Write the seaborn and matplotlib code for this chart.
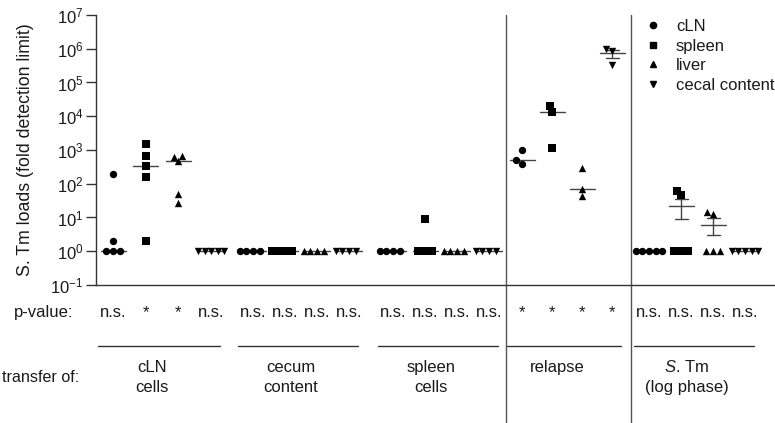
import numpy as np
import pandas as pd
import matplotlib
matplotlib.use("Agg")
import matplotlib.pyplot as plt
import matplotlib.transforms as mtransforms
from matplotlib.lines import Line2D
from matplotlib.ticker import LogFormatterMathtext, NullLocator
import seaborn as sns

# ---- data (fold detection limit) ----
tissues = ["cLN", "spleen", "liver", "cecal content"]
markers = ["o", "s", "^", "v"]
groups = ["cLN\ncells", "cecum\ncontent", "spleen\ncells", "relapse",
          "$\\mathit{S}$. Tm\n(log phase)"]

# one list per transfer group
cln_loads = [[1, 1, 1, 2, 190], [1, 1, 1, 1], [1, 1, 1, 1],
             [390, 490, 970], [1, 1, 1, 1, 1]]
spleen_loads = [[2, 158, 330, 660, 1480], [1, 1, 1, 1], [1, 1, 1, 9],
                [1170, 13000, 19600], [1, 1, 1, 45, 63]]
liver_loads = [[26, 50, 460, 620, 660], [1, 1, 1, 1], [1, 1, 1, 1],
               [42, 69, 290], [1, 1, 1, 13, 15]]
cecal_loads = [[1, 1, 1, 1, 1], [1, 1, 1, 1], [1, 1, 1, 1],
               [320000, 860000, 1000000], [1, 1, 1, 1, 1]]

p_values = [["n.s.", "*", "*", "n.s."],
            ["n.s.", "n.s.", "n.s.", "n.s."],
            ["n.s.", "n.s.", "n.s.", "n.s."],
            ["*", "*", "*", "*"],
            ["n.s.", "n.s.", "n.s.", "n.s."]]

# summary line drawn per column: median, or mean +/- SEM
summary = [["median"] * 4, ["median"] * 4, ["median"] * 4,
           ["median", "median", "median", "mean"], ["mean"] * 4]

# ---- layout (x in pixel units of the 775 px wide figure) ----
W, H = 775, 423
group_x0 = [113, 253, 393, 522, 649]
group_step = [32.7, 32, 32, 30, 32]
ink = "#1a1a1a"
line_col = "#444444"

all_loads = [cln_loads, spleen_loads, liver_loads, cecal_loads]
rows = []
for g, grp in enumerate(groups):
    for t, tissue in enumerate(tissues):
        x = group_x0[g] + t * group_step[g]
        for v in all_loads[t][g]:
            rows.append({"group": grp, "tissue": tissue, "x": x, "load": v})
df = pd.DataFrame(rows)

sns.set_theme(style="ticks")
plt.rcParams["font.family"] = ["Liberation Sans", "DejaVu Sans"]
plt.rcParams["mathtext.fontset"] = "custom"
plt.rcParams["mathtext.rm"] = "Liberation Sans"
plt.rcParams["mathtext.it"] = "Liberation Sans:italic"
plt.rcParams["text.color"] = ink

fig = plt.figure(figsize=(W / 100, H / 100), dpi=100)
ax = fig.add_axes([96 / W, 1 - 285 / H, (W - 96) / W, 270 / H])

for t, tissue in enumerate(tissues):
    sns.swarmplot(data=df[df["tissue"] == tissue], x="x", y="load",
                  native_scale=True, log_scale=(False, True), orient="x",
                  marker=markers[t], color="black", size=4.5, ax=ax, zorder=3)

# median / mean +/- SEM lines
for g in range(len(groups)):
    for t in range(len(tissues)):
        x = group_x0[g] + t * group_step[g]
        vals = np.array(all_loads[t][g], dtype=float)
        if summary[g][t] == "mean":
            c = vals.mean()
            sem = vals.std(ddof=1) / np.sqrt(len(vals))
            if sem > 0:
                ax.plot([x, x], [c - sem, c + sem], color=line_col, lw=1, zorder=2)
                for yy in (c - sem, c + sem):
                    ax.plot([x - 6.5, x + 6.5], [yy, yy], color=line_col, lw=1, zorder=2)
        else:
            c = np.median(vals)
        ax.plot([x - 12.5, x + 12.5], [c, c], color=line_col, lw=1, zorder=2)

ax.set_xlim(96, W)
ax.set_ylim(0.1, 1e7)
ax.set_xticks([])
ax.set_xlabel("")
ax.set_yticks([10.0 ** k for k in range(-1, 8)])
ax.yaxis.set_major_formatter(LogFormatterMathtext())
ax.yaxis.set_minor_locator(NullLocator())
ax.tick_params(axis="y", length=7, width=1, direction="out", labelsize=12,
               pad=2, color="#333333", labelcolor=ink)
ax.set_ylabel("S. Tm loads (fold detection limit)", fontsize=12.8, color=ink)
ax.yaxis.set_label_coords((34 - 96) / (W - 96), 0.5)
sns.despine(ax=ax)
for s in ("left", "bottom"):
    ax.spines[s].set_color("#333333")
    ax.spines[s].set_linewidth(1)

# vertical separators through the whole lower panel
for g in (3, 4):
    xv = (group_x0[g - 1] + 3 * group_step[g - 1] + group_x0[g]) / 2
    ax.axvline(xv, ymin=-(H - 285) / 270, ymax=1, clip_on=False,
               color="#555555", lw=1)

# legend
handles = [Line2D([], [], marker=m, color="black", linestyle="", markersize=4.5)
           for m in markers]
ax.legend(handles, tissues, loc="upper left",
          bbox_to_anchor=(646 / W, 1 - 19 / H), bbox_transform=fig.transFigure,
          frameon=False, fontsize=12, handlelength=0.8, handletextpad=1.0,
          labelspacing=0.27, borderpad=0, borderaxespad=0)

# annotation rows below the axis
trans = mtransforms.blended_transform_factory(ax.transData, fig.transFigure)
fy = lambda py: 1 - py / H
fig.text(73 / W, fy(317), "p-value:", ha="right", va="baseline", fontsize=12)
fig.text(79 / W, fy(382), "transfer of:", ha="right", va="baseline", fontsize=11.6)
for g, grp in enumerate(groups):
    xs = [group_x0[g] + t * group_step[g] for t in range(len(tissues))]
    for x, p in zip(xs, p_values[g]):
        ax.text(x, fy(317), p, transform=trans, ha="center", va="baseline",
                fontsize=12)
    ax.plot([xs[0] - 15, xs[-1] + 9], [fy(346), fy(346)], transform=trans,
            color="#333333", lw=1, clip_on=False)
    cx = (xs[0] + xs[-1]) / 2 - 10
    for i, txt in enumerate(grp.split("\n")):
        ax.text(cx, fy(372 + 20 * i), txt, transform=trans, ha="center",
                va="baseline", fontsize=12)

# lay the swarms out once, then freeze them and enlarge the markers a little,
# so that tied points overlap like in the original figure
fig.canvas.draw()
for coll in ax.collections:
    if "draw" in coll.__dict__:
        del coll.draw
    coll.set_sizes([5.3 ** 2])

fig.savefig("out.png", dpi=100)
